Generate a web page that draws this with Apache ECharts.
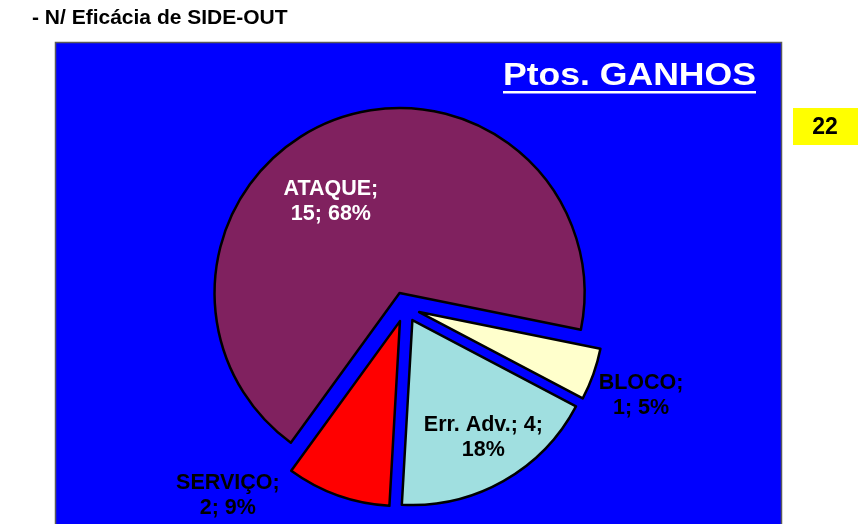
<!DOCTYPE html>
<html>
<head>
<meta charset="utf-8">
<script src="https://cdn.jsdelivr.net/npm/echarts@6/dist/echarts.min.js"></script>
<style>
  html, body { margin: 0; padding: 0; background: #ffffff; }
  #chart { width: 862px; height: 524px; }
</style>
</head>
<body>
<div id="chart"></div>
<script>
// Side-out points won, by source
const categories = ['ATAQUE', 'BLOCO', 'Err. Adv.', 'SERVIÇO'];
const pointValues = [15, 1, 4, 2];
const totalPoints = 22;

const pageTitle = '- N/ Eficácia de SIDE-OUT';
const panelTitle = 'Ptos. GANHOS';

const sliceColors = ['#80215F', '#FFFFCC', '#A0DFE0', '#FF0000'];
const labelColors = ['#FFFFFF', '#000000', '#000000', '#000000'];
// nudges applied to each label from its default inside anchor
const labelShift = [[-34, -2], [132, 51], [24, 34], [-140, 85]];

const FONT = '"Liberation Sans", Arial, Helvetica, sans-serif';

const chart = echarts.init(document.getElementById('chart'), null, { renderer: 'canvas' });

const pieData = categories.map((name, i) => ({
  name: name,
  value: pointValues[i],
  selected: true,
  itemStyle: { color: sliceColors[i] },
  label: { color: labelColors[i] }
}));

chart.setOption({
  animation: false,
  backgroundColor: '#ffffff',
  graphic: [
    {
      type: 'text', z: 1,
      x: 32, y: 18,
      style: {
        text: pageTitle,
        font: 'bold 21px ' + FONT,
        fill: '#000000',
        verticalAlign: 'middle', align: 'left'
      }
    },
    {
      type: 'rect', z: 0,
      shape: { x: 55.5, y: 42.5, width: 726, height: 500 },
      style: { fill: '#0000FF', stroke: '#5a5a5a', lineWidth: 1.5 }
    },
    {
      type: 'text', z: 1,
      x: 503, y: 76,
      scaleX: 1.147,
      style: {
        text: panelTitle,
        font: 'bold 31px ' + FONT,
        fill: '#FFFFFF',
        verticalAlign: 'middle', align: 'left'
      }
    },
    {
      type: 'rect', z: 1,
      shape: { x: 503, y: 91, width: 253, height: 2.5 },
      style: { fill: '#FFFFFF' }
    },
    {
      type: 'rect', z: 0,
      shape: { x: 793, y: 108, width: 65, height: 37 },
      style: { fill: '#FFFF00' }
    },
    {
      type: 'text', z: 1,
      x: 825, y: 128,
      style: {
        text: String(totalPoints),
        font: 'bold 23px ' + FONT,
        fill: '#000000',
        verticalAlign: 'middle', align: 'center'
      }
    }
  ],
  series: [
    {
      type: 'pie',
      z: 5,
      center: [405, 307],
      radius: 185,
      startAngle: 234,
      clockwise: true,
      selectedMode: 'multiple',
      selectedOffset: 15,
      percentPrecision: 0,
      avoidLabelOverlap: false,
      itemStyle: { borderColor: '#000000', borderWidth: 2.5 },
      label: {
        show: true,
        position: 'inside',
        fontFamily: FONT,
        fontWeight: 'bold',
        fontSize: 21.5,
        lineHeight: 25,
        align: 'center',
        formatter: function (p) {
          if (p.name === 'Err. Adv.') {
            return p.name + '; ' + p.value + ';\n' + p.percent + '%';
          }
          return p.name + ';\n' + p.value + '; ' + p.percent + '%';
        }
      },
      labelLine: { show: false },
      labelLayout: function (params) {
        const s = labelShift[params.dataIndex];
        return { dx: s[0], dy: s[1], hideOverlap: false };
      },
      emphasis: { disabled: true },
      select: { itemStyle: { borderColor: '#000000', borderWidth: 2.5 } },
      data: pieData
    }
  ]
});
</script>
</body>
</html>
